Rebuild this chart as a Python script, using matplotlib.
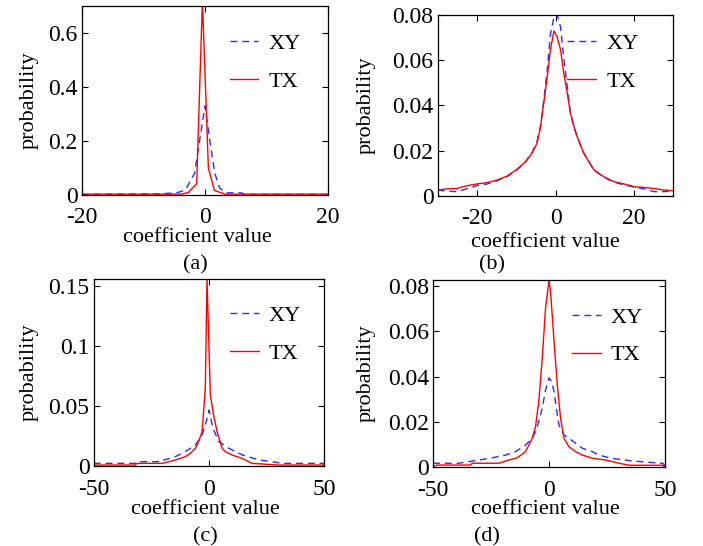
import matplotlib
matplotlib.use("Agg")
import matplotlib.pyplot as plt

plt.rcParams['font.family'] = ['Liberation Serif', 'DejaVu Serif']
plt.rcParams['font.size'] = 16
plt.rcParams['axes.unicode_minus'] = False

# (a)
xy_a_x = [-20, -7.5, -4.6, -3.2, -1.7, 0.0, 0.8, 1.6, 2.4, 3.5, 5.9, 6.5, 20]
xy_a_y = [0.002, 0.004, 0.008, 0.018, 0.08, 0.33, 0.2, 0.08, 0.025, 0.008, 0.008, 0.002, 0.002]
tx_a_x = [-20, -3.9, -2.7, -1.35, -0.42, 0.55, 1.53, 3.25, 20]
tx_a_y = [0.003, 0.003, 0.009, 0.042, 0.72, 0.10, 0.017, 0.003, 0.003]

# (b)
xy_b_x = [-30, -27.7, -25.1, -22.6, -20, -17.4, -14.9, -12.3, -9.8, -7.6, -6.0, -4.7, -3.8,
          -3.0, -2.1, -1.3, -0.4, 0.4, 1.3, 2.1, 3.0, 3.8, 4.7, 5.5, 7.2, 9.8, 12.3, 14.9,
          17.4, 20, 22.6, 25.1, 27.7, 30]
xy_b_y = [0.0025, 0.002, 0.0018, 0.003, 0.0045, 0.0052, 0.0066, 0.0085, 0.0115, 0.015, 0.019,
          0.024, 0.031, 0.042, 0.0557, 0.0715, 0.079, 0.0805, 0.0745, 0.061, 0.048, 0.037,
          0.0305, 0.026, 0.0188, 0.0112, 0.0082, 0.006, 0.0048, 0.0038, 0.003, 0.0018,
          0.0018, 0.0022]
tx_b_x = [-30, -27.7, -25.1, -22.6, -20, -17.4, -14.9, -12.3, -9.8, -7.6, -6.0, -4.7, -3.8,
          -3.0, -2.1, -1.3, -0.4, 0.4, 1.3, 2.1, 3.0, 3.8, 4.7, 5.5, 7.2, 9.8, 12.3, 14.9,
          17.4, 20, 22.6, 25.1, 27.7, 30]
tx_b_y = [0.0025, 0.003, 0.0032, 0.0044, 0.0052, 0.0058, 0.0069, 0.0087, 0.0117, 0.0151,
          0.0188, 0.0232, 0.0306, 0.041, 0.0527, 0.0645, 0.073, 0.0704, 0.0645, 0.0542,
          0.0453, 0.0365, 0.0306, 0.0262, 0.0188, 0.0114, 0.0084, 0.0062, 0.0052, 0.004,
          0.0036, 0.0032, 0.0025, 0.0022]

# (c)
xy_c_x = [-50, -32, -31.2, -20.4, -19.7, -16.8, -14.6, -10.3, -5.9, -3.0, -1.2, 0, 1.7, 4.3,
          8.7, 14.5, 21.7, 27.5, 31.8, 50]
xy_c_y = [0.0022, 0.0022, 0.0036, 0.0036, 0.005, 0.0064, 0.0078, 0.012, 0.0175, 0.0258,
          0.037, 0.0467, 0.0314, 0.0203, 0.0147, 0.0092, 0.005, 0.0036, 0.0022, 0.0022]
tx_c_x = [-50, -32, -31.2, -20.4, -14.6, -12.4, -10.3, -8.1, -5.9, -4.5, -3.0, -1.6, -0.87,
          0.58, 2.0, 3.5, 5.7, 7.1, 10.0, 14.3, 18.7, 30.2, 50]
tx_c_y = [0.0008, 0.0008, 0.0022, 0.0022, 0.005, 0.0064, 0.0078, 0.0106, 0.0147, 0.0203,
          0.0286, 0.065, 0.156, 0.0592, 0.0425, 0.0286, 0.0147, 0.0119, 0.0092, 0.0064,
          0.0022, 0.0008, 0.0008]

# (d)
xy_d_x = [-50, -38.9, -34.5, -30.2, -24.4, -18.7, -14.4, -10.1, -7.2, -5.8, -4.4, -2.9, -1.5,
          0, 1.2, 2.2, 3.2, 4.3, 6.5, 8.6, 11.5, 14.4, 18.7, 21.6, 25.9, 28.8, 36, 43.2, 49,
          50.4]
xy_d_y = [0.0018, 0.0018, 0.0025, 0.0032, 0.0042, 0.0054, 0.0069, 0.0098, 0.0128, 0.0157,
          0.0201, 0.026, 0.0339, 0.0394, 0.0377, 0.0333, 0.026, 0.0186, 0.0142, 0.0128,
          0.0106, 0.0084, 0.0069, 0.0054, 0.0042, 0.0037, 0.0028, 0.0022, 0.0018, 0.0003]
tx_d_x = [-50, -48.3, -33.8, -33.1, -21.6, -17.3, -13.7, -10.1, -7.2, -5.8, -4.4, -2.9, -1.5,
          0, 0.7, 2.2, 3.6, 5.0, 6.5, 8.6, 11.5, 14.4, 18.7, 24.5, 30.2, 34.6, 49, 50]
tx_d_y = [0.0003, 0.001, 0.001, 0.0018, 0.0018, 0.0032, 0.0042, 0.0069, 0.0128, 0.0179,
          0.029, 0.0479, 0.0699, 0.0823, 0.0772, 0.0553, 0.0362, 0.0216, 0.0127, 0.0091,
          0.0069, 0.0054, 0.004, 0.0032, 0.0018, 0.0009, 0.0009, 0.0]

panels = [
    dict(xy=(xy_a_x, xy_a_y), tx=(tx_a_x, tx_a_y), xlim=(-20, 20), ylim=(0, 0.7),
         xticks=[-20, 0, 20], yticks=[0, 0.2, 0.4, 0.6], yticklabels=['0', '0.2', '0.4', '0.6'],
         rect=[0.1166, 0.6429, 0.35, 0.3461], ylab=-0.175, xlab=(0.469, -0.175),
         leg=(0.60, 0.854), cap='(a)', cap_pos=(195, 265)),
    dict(xy=(xy_b_x, xy_b_y), tx=(tx_b_x, tx_b_y), xlim=(-30, 30), ylim=(0, 0.08),
         xticks=[-20, 0, 20], yticks=[0, 0.02, 0.04, 0.06, 0.08],
         yticklabels=['0', '0.02', '0.04', '0.06', '0.08'],
         rect=[0.6226, 0.6416, 0.3352, 0.3309], ylab=-0.262, xlab=(0.459, -0.206),
         leg=(0.55, 0.898), cap='(b)', cap_pos=(492, 265)),
    dict(xy=(xy_c_x, xy_c_y), tx=(tx_c_x, tx_c_y), xlim=(-50, 50), ylim=(0, 0.156),
         xticks=[-50, 0, 50], yticks=[0, 0.05, 0.1, 0.15],
         yticklabels=['0', '0.05', '0.1', '0.15'],
         rect=[0.1333, 0.1465, 0.328, 0.3425], ylab=-0.237, xlab=(0.486, -0.182),
         leg=(0.591, 0.859), cap='(c)', cap_pos=(205, 537)),
    dict(xy=(xy_d_x, xy_d_y), tx=(tx_d_x, tx_d_y), xlim=(-50, 50), ylim=(0, 0.0825),
         xticks=[-50, 0, 50], yticks=[0, 0.02, 0.04, 0.06, 0.08],
         yticklabels=['0', '0.02', '0.04', '0.06', '0.08'],
         rect=[0.6159, 0.1441, 0.33, 0.343], ylab=-0.246, xlab=(0.486, -0.175),
         leg=(0.598, 0.856), cap='(d)', cap_pos=(487, 537)),
]

fig = plt.figure(figsize=(7.03, 5.46), dpi=100)

for p in panels:
    ax = fig.add_axes(p['rect'])
    ax.plot(p['xy'][0], p['xy'][1], color='#2a2aff', lw=1.0, dashes=(5, 3.5), label='XY')
    ax.plot(p['tx'][0], p['tx'][1], color='#ff0000', lw=1.0, label='TX')
    ax.set_xlim(p['xlim'])
    ax.set_ylim(p['ylim'])
    ax.set_xticks(p['xticks'])
    ax.set_xticklabels([str(t) for t in p['xticks']])
    ax.set_yticks(p['yticks'])
    ax.set_yticklabels(p['yticklabels'])
    ax.tick_params(direction='in', top=True, right=True, length=4, width=0.8, labelsize=17)
    ax.tick_params(axis='x', pad=9)
    ax.tick_params(axis='y', pad=3)
    for s in ax.spines.values():
        s.set_linewidth(0.9)
    ax.set_xlabel('coefficient value')
    ax.xaxis.set_label_coords(*p['xlab'])
    ax.set_ylabel('probability')
    ax.yaxis.set_label_coords(p['ylab'], 0.5)
    ax.legend(loc='upper left', bbox_to_anchor=p['leg'], frameon=False, borderpad=0,
              borderaxespad=0, handlelength=1.3, handletextpad=0.45, labelspacing=0.78)
    fig.text(p['cap_pos'][0] / 703, 1 - p['cap_pos'][1] / 546, p['cap'],
             ha='center', va='center')

fig.savefig('out.png', dpi=100)
